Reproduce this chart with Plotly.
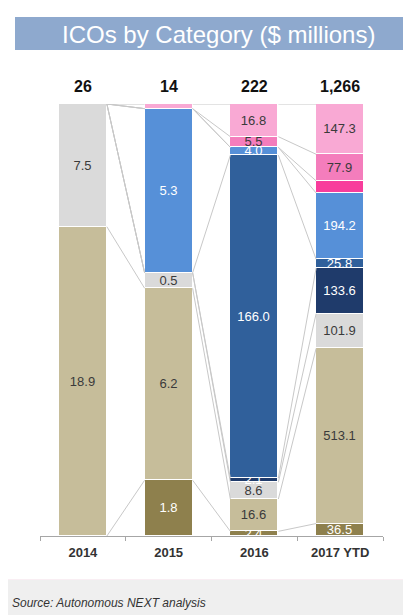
import plotly.graph_objects as go

years = ["2014", "2015", "2016", "2017 YTD"]

# values in $ millions, bottom to top of each stack
olive = [0, 1.8, 2.4, 36.5]
tan = [18.9, 6.2, 16.6, 513.1]
gray = [7.5, 0.5, 8.6, 101.9]
navy = [0, 0, 2.1, 133.6]
midblue = [0, 0, 166.0, 25.8]
blue = [0, 5.3, 4.0, 194.2]
hotpink = [0, 0, 0, 35.7]
pink = [0, 0, 5.5, 77.9]
lightpink = [0, 0.15, 16.8, 147.3]

series = [
    ("Olive", olive, "#8E804D", "white", True),
    ("Tan", tan, "#C6BD9A", "#3A3A3A", True),
    ("Gray", gray, "#DADADA", "#3A3A3A", True),
    ("Navy", navy, "#1F3B6B", "white", True),
    ("Mid blue", midblue, "#30609B", "white", True),
    ("Blue", blue, "#5690D8", "white", True),
    ("Hot pink", hotpink, "#F83D9C", "#3A3A3A", False),
    ("Pink", pink, "#F47DBC", "#3A3A3A", True),
    ("Light pink", lightpink, "#F9A9D4", "#3A3A3A", True),
]

FONT = "Liberation Sans, Arial, sans-serif"
W = 0.56
n = len(years)
xs = list(range(n))
totals = [sum(s[1][i] for s in series) for i in range(n)]

fig = go.Figure()

# connector (series) lines between adjacent bars
cum = [0.0] * n
lx, ly = [], []
for name, vals, color, tcolor, show in series:
    cum = [cum[i] + vals[i] / totals[i] * 100 for i in range(n)]
    for i in range(n - 1):
        lx += [i + W / 2, i + 1 - W / 2, None]
        ly += [cum[i], cum[i + 1], None]
fig.add_trace(go.Scatter(x=lx, y=ly, mode="lines", xaxis="x2",
                         line=dict(color="#C8C8C8", width=1),
                         hoverinfo="skip", showlegend=False))

for name, vals, color, tcolor, show in series:
    pct = [v / t * 100 if v > 0 else None for v, t in zip(vals, totals)]
    txt = [f"{v:.1f}" if (show and v >= 0.5) else "" for v in vals]
    fig.add_trace(go.Bar(
        x=xs, y=pct, width=W, name=name, text=txt,
        textposition="inside", insidetextanchor="middle", textangle=0,
        textfont=dict(color=tcolor, size=13, family=FONT),
        marker=dict(color=color, line=dict(color="white", width=1)),
        showlegend=False,
    ))

for i, t in enumerate(totals):
    fig.add_annotation(x=i, y=100, xref="x", yref="y", yanchor="bottom",
                       yshift=7, showarrow=False,
                       text=f"<b>{round(t):,}</b>",
                       font=dict(size=16, color="#111111", family=FONT))

# the page body adds an 8px offset; the figure is sized to fit the window
OFF = 8
FW, FH = 411 - OFF, 615 - OFF
L, R, T, B = 32, 28, 96, 79
PW, PH = FW - L - R, FH - T - B


def px(x):
    return (x - OFF - L) / PW


def py(y):
    return (FH - B - (y - OFF)) / PH


shapes = [
    dict(type="rect", xref="paper", yref="paper", x0=px(4), x1=px(430),
         y0=py(580), y1=py(5), line=dict(color="#F3DDE7", width=1),
         fillcolor="rgba(0,0,0,0)", layer="below"),
    dict(type="rect", xref="paper", yref="paper", x0=px(15), x1=px(408),
         y0=py(50), y1=py(17), line=dict(width=0), fillcolor="#8EA9CE",
         layer="below"),
    dict(type="rect", xref="paper", yref="paper", x0=px(0), x1=px(420),
         y0=py(630), y1=py(580), line=dict(width=0), fillcolor="#EFEFEF",
         layer="below"),
]

fig.add_annotation(x=px(218), y=py(34), xref="paper", yref="paper",
                   xanchor="center", yanchor="middle", showarrow=False,
                   text="ICOs by Category ($ millions)",
                   font=dict(size=24, color="white", family=FONT))
fig.add_annotation(x=px(10), y=py(603), xref="paper", yref="paper",
                   xanchor="left", yanchor="middle", showarrow=False,
                   text="<i>Source: Autonomous NEXT analysis</i>",
                   font=dict(size=12, color="#333333", family=FONT))

fig.update_layout(
    width=FW, height=FH,
    margin=dict(l=L, r=R, t=T, b=B),
    barmode="stack", bargap=0,
    paper_bgcolor="white", plot_bgcolor="white",
    uniformtext=dict(minsize=13, mode="show"),
    shapes=shapes,
    xaxis=dict(range=[-0.5, 3.5], tickvals=xs,
               ticktext=[f"<b>{y}</b>" for y in years], ticks="",
               ticklabelstandoff=7,
               showline=False, showgrid=False, zeroline=False,
               tickfont=dict(size=13, color="#333333", family=FONT)),
    xaxis2=dict(range=[-0.5, 3.5], overlaying="x", anchor="y",
                tickvals=[i - 0.5 for i in range(n + 1)], ticks="outside",
                ticklen=4, tickcolor="#A6A6A6", showline=True,
                linecolor="#A6A6A6", showticklabels=False, showgrid=False,
                zeroline=False),
    yaxis=dict(range=[0, 100], visible=False, fixedrange=True),
    font=dict(family=FONT),
)

fig.write_html("out.html")
